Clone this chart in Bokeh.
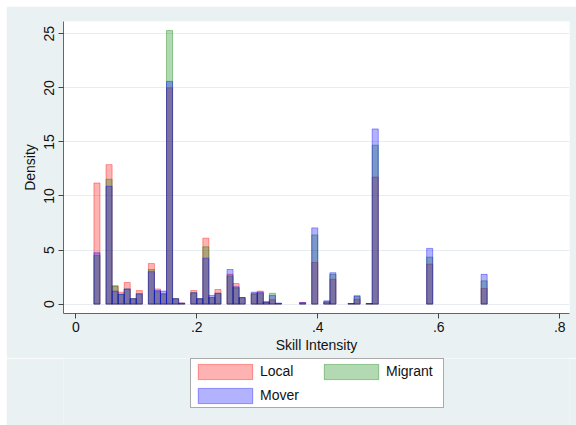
from bokeh.plotting import figure
from bokeh.layouts import column, row
from bokeh.models import (Range1d, FixedTicker, Legend, LegendItem,
                          ColumnDataSource, Spacer)
from bokeh.embed import file_html
from bokeh.resources import INLINE

# ---- data (density per 0.01-wide bin) ----
bin_start = [0.03, 0.05, 0.06, 0.07, 0.08, 0.09, 0.10, 0.12, 0.13, 0.14,
             0.15, 0.16, 0.17, 0.19, 0.20, 0.21, 0.22, 0.23, 0.25, 0.26,
             0.27, 0.29, 0.30, 0.31, 0.32, 0.33, 0.37, 0.39, 0.41, 0.42,
             0.45, 0.46, 0.48, 0.49, 0.58, 0.67]
local = [11.2, 12.9, 1.7, 1.1, 2.0, 0.5, 1.25, 3.75, 1.4, 0.95,
         20.0, 0.5, 0.1, 1.25, 0.5, 6.1, 0.6, 1.35, 2.75, 1.9,
         0.6, 1.0, 1.2, 0.2, 0.4, 0.05, 0.15, 3.85, 0.2, 2.3,
         0.05, 0.45, 0.05, 11.75, 3.7, 1.45]
migrant = [4.5, 11.55, 1.65, 0.9, 1.4, 0.5, 0.95, 3.2, 1.15, 0.95,
           25.3, 0.5, 0.05, 1.05, 0.5, 5.3, 0.6, 1.0, 2.6, 1.5,
           0.6, 0.9, 1.0, 0.2, 1.0, 0.05, 0.05, 6.4, 0.2, 2.75,
           0.05, 0.8, 0.05, 14.7, 4.35, 2.15]
mover = [4.75, 10.9, 1.2, 0.9, 1.4, 0.5, 0.95, 3.0, 1.25, 1.2,
         20.6, 0.5, 0.1, 1.05, 0.5, 4.25, 0.8, 1.0, 3.2, 1.6,
         0.6, 1.1, 1.1, 0.2, 0.8, 0.1, 0.15, 7.05, 0.3, 2.9,
         0.05, 0.7, 0.05, 16.2, 5.15, 2.75]
series_names = ["Local", "Migrant", "Mover"]
x_ticks = [0, 0.2, 0.4, 0.6, 0.8]
x_tick_labels = ["0", ".2", ".4", ".6", ".8"]
y_ticks = [0, 5, 10, 15, 20, 25]
y_tick_labels = ["0", "5", "10", "15", "20", "25"]
x_title = "Skill Intensity"
y_title = "Density"

BIN_WIDTH = 0.01
COLORS = ["#ff0000", "#008000", "#0000ff"]
FONT = "Liberation Sans"
BG = "#eaf1f3"
FILL_ALPHA = 0.3
LINE_ALPHA = 0.38

p = figure(width=570, height=352, output_backend="svg", toolbar_location=None,
           x_range=Range1d(-0.0203, 0.8161), y_range=Range1d(-0.87, 26.14),
           min_border_left=57, min_border_right=7, min_border_top=15,
           min_border_bottom=45)
p.background_fill_color = "white"
p.border_fill_color = BG
p.outline_line_color = None

sources = []
renderers = []
for name, vals, col in zip(series_names, [local, migrant, mover], COLORS):
    src = ColumnDataSource(dict(left=bin_start,
                                right=[b + BIN_WIDTH for b in bin_start],
                                top=vals, bottom=[0] * len(vals)))
    sources.append(src)
    r = p.quad(left="left", right="right", top="top", bottom="bottom", source=src,
               fill_color=col, fill_alpha=FILL_ALPHA, line_color=col,
               line_alpha=LINE_ALPHA, line_width=1)
    renderers.append(r)

# axes
for ax in (p.xaxis[0], p.yaxis[0]):
    ax.axis_line_color = "#666666"
    ax.major_tick_line_color = "#444444"
    ax.major_tick_out = 5
    ax.major_tick_in = 0
    ax.minor_tick_line_color = None
    ax.major_label_text_font = FONT
    ax.major_label_text_font_size = "14px"
    ax.major_label_text_color = "#111111"
    ax.axis_label_text_font = FONT
    ax.axis_label_text_font_size = "14px"
    ax.axis_label_text_font_style = "normal"
    ax.axis_label_text_color = "#111111"

p.xaxis.ticker = FixedTicker(ticks=x_ticks)
p.xaxis.major_label_overrides = dict(zip(x_ticks, x_tick_labels))
p.xaxis.axis_label = x_title
p.xaxis.major_label_standoff = 3
p.xaxis.axis_label_standoff = 2

p.yaxis.ticker = FixedTicker(ticks=y_ticks)
p.yaxis.major_label_overrides = dict(zip(y_ticks, y_tick_labels))
p.yaxis.major_label_orientation = "vertical"
p.yaxis.axis_label = y_title
p.yaxis.major_label_standoff = 4
p.yaxis.axis_label_standoff = 4

p.xgrid.grid_line_color = None
p.ygrid.grid_line_color = "#e6eef1"
p.ygrid.grid_line_width = 1

# ---- legend strip below the plot ----
# its key glyphs share the histogram sources; the strip's y range lies below 0,
# so the bars themselves stay out of view and only the legend keys show.
lf = figure(width=570, height=67, output_backend="svg", toolbar_location=None,
            x_range=Range1d(0, 1), y_range=Range1d(-2, -1),
            x_axis_location=None, y_axis_location=None,
            min_border=0)
lf.background_fill_color = BG
lf.border_fill_color = BG
lf.outline_line_color = None
lf.xgrid.grid_line_color = None
lf.ygrid.grid_line_color = None

key_renderers = []
for src, col in zip(sources, COLORS):
    kr = lf.quad(left="left", right="right", top="top", bottom="bottom",
                 source=src, fill_color=col, fill_alpha=FILL_ALPHA,
                 line_color=col, line_alpha=LINE_ALPHA, line_width=1)
    key_renderers.append(kr)

# column-major fill: this order gives Local/Migrant on row 1, Mover on row 2
legend_order = [0, 2, 1]
items = [LegendItem(label=series_names[i], renderers=[key_renderers[i]])
         for i in legend_order]
legend = Legend(items=items, ncols=2, location=(127, 17),
                glyph_width=68, glyph_height=19, label_standoff=1,
                label_text_font=FONT, label_text_font_size="14px",
                label_text_color="#111111", label_width=57, label_height=24,
                spacing=0, padding=0, margin=0,
                border_line_color="#555555", border_line_width=1,
                background_fill_color="white", background_fill_alpha=1)
lf.add_layout(legend, "center")

layout = column(Spacer(height=6),
                row(Spacer(width=6), column(p, lf, spacing=0), spacing=0),
                spacing=0)

open("out.html", "w").write(file_html(layout, INLINE))
